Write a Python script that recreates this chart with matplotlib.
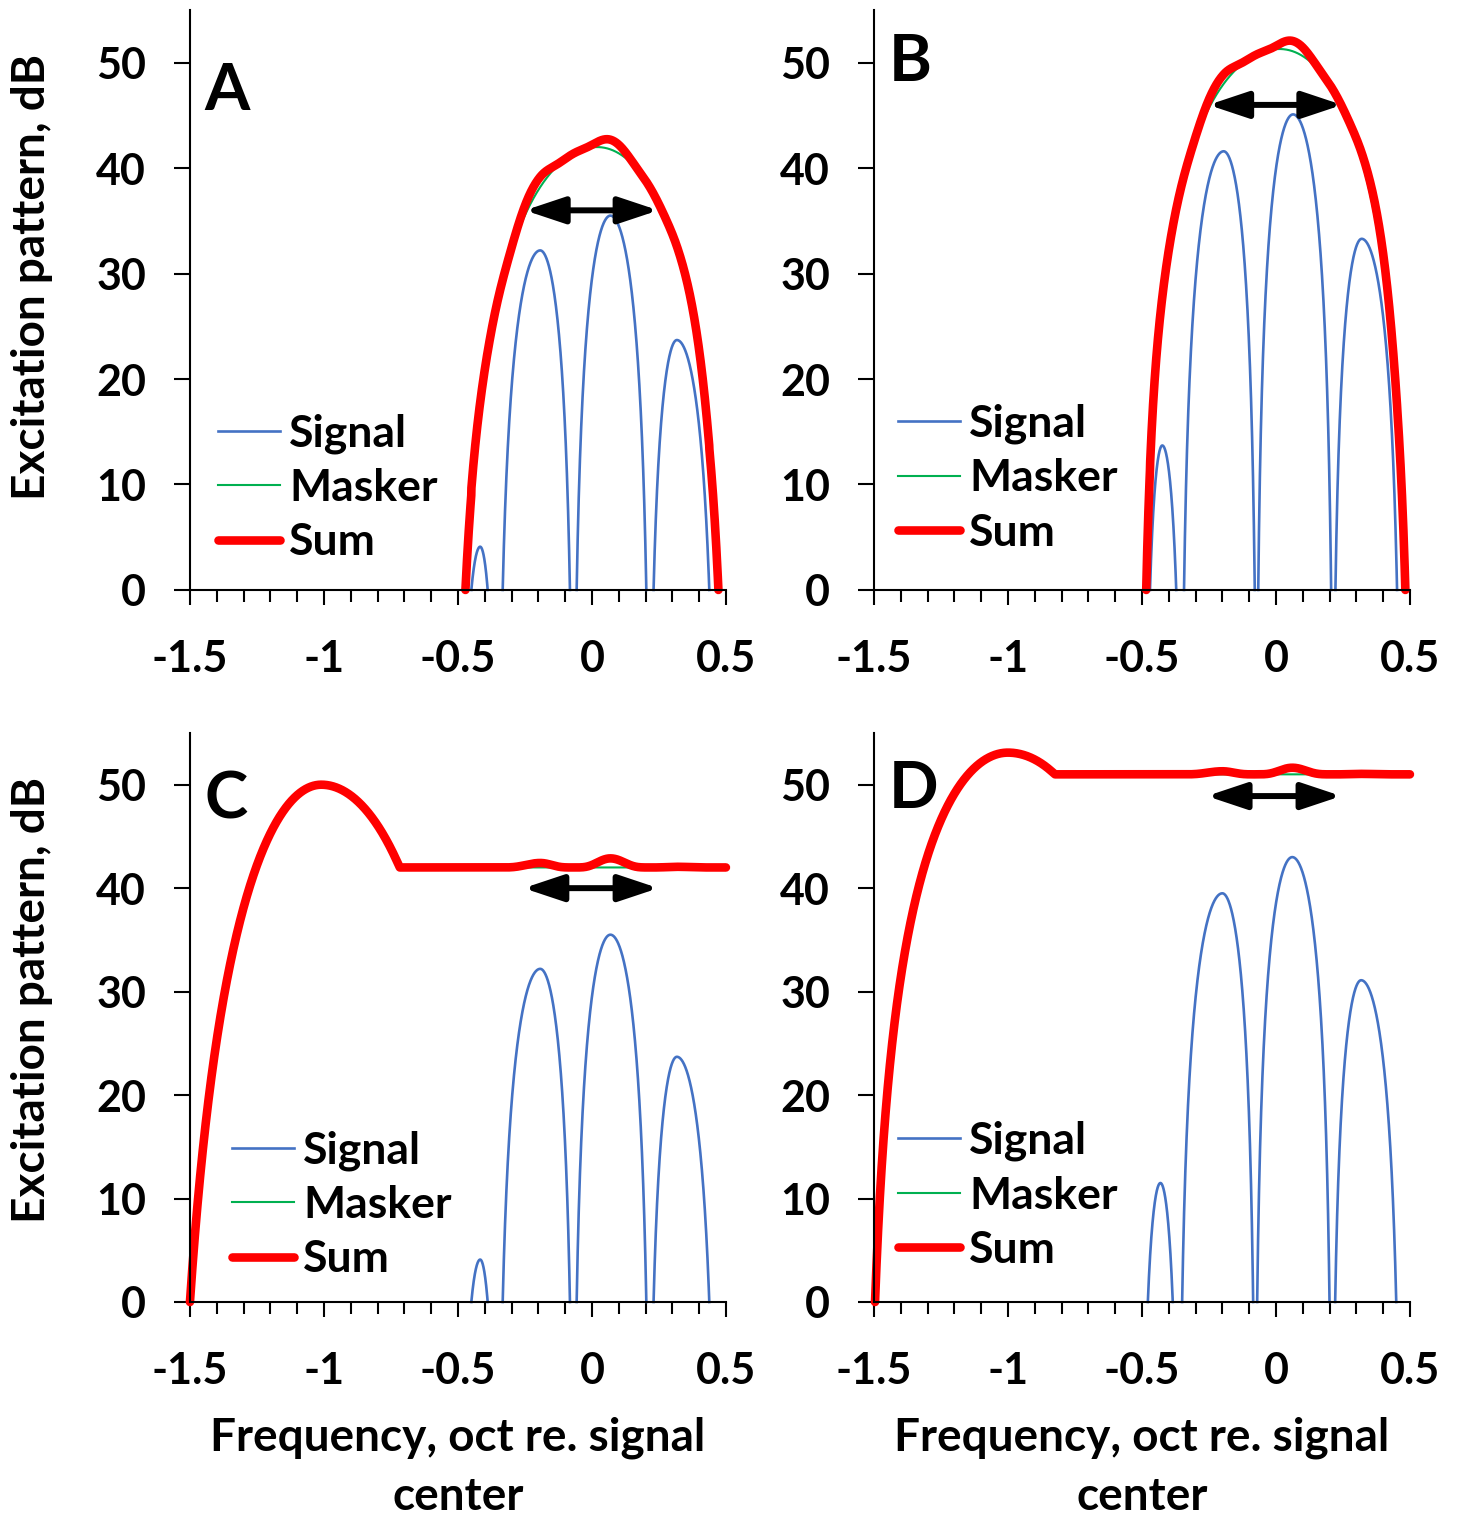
import numpy as np
import matplotlib.pyplot as plt

plt.rcParams['font.family'] = 'Lato'
plt.rcParams['font.weight'] = 'bold'
plt.rcParams['axes.unicode_minus'] = False

BLUE = '#4472C4'
GREEN = '#00B050'
RED = '#FF0000'

# Signal lobes: lower zero, peak frequency, peak level, upper zero
sig_ac_lo = [-0.450, -0.333, -0.057, 0.230]
sig_ac_fx = [-0.417, -0.193, 0.069, 0.317]
sig_ac_db = [4.1, 32.2, 35.5, 23.7]
sig_ac_hi = [-0.389, -0.082, 0.203, 0.438]

sig_b_lo = [-0.470, -0.343, -0.066, 0.222]
sig_b_fx = [-0.424, -0.195, 0.064, 0.320]
sig_b_db = [13.7, 41.6, 45.1, 33.3]
sig_b_hi = [-0.372, -0.079, 0.206, 0.452]

sig_d_lo = [-0.478, -0.350, -0.070, 0.221]
sig_d_fx = [-0.431, -0.200, 0.061, 0.318]
sig_d_db = [11.5, 39.5, 43.0, 31.1]
sig_d_hi = [-0.385, -0.085, 0.200, 0.449]

# Masker: lower zero, peak frequency, peak level, upper zero, plateau level
mask_lo = [-0.472, -0.484, -1.500, -1.496]
mask_fx = [0.020, 0.014, -1.010, -1.000]
mask_db = [42.0, 51.3, 50.0, 53.1]
mask_hi = [0.472, 0.483, -0.420, -0.414]
mask_floor = [None, None, 42.0, 51.0]
mask_c_lo = [50, 42, 100, 60]
mask_c_hi = [50, 50, 100, 60]

# Bandwidth arrows (from, to, level)
arrow_x0 = [-0.250, -0.252, -0.255, -0.258]
arrow_x1 = [0.248, 0.247, 0.248, 0.244]
arrow_db = [36.0, 46.0, 40.0, 48.9]

letters = ['A', 'B', 'C', 'D']
letter_db = [47.3, 50.0, 48.5, 49.5]
legend_pos = [(-1.396, 9.7), (-1.41, 10.6), (-1.343, 9.4), (-1.41, 10.3)]

SIG_C = 50


def lobe(x, lo, fx, peak, hi, c_lo, c_hi):
    x = np.asarray(x, dtype=float)
    u = np.where(x < fx, (fx - x) / (fx - lo), (x - fx) / (hi - fx))
    c = np.where(x < fx, c_lo, c_hi)
    f = 1 - 10 ** (-peak / c)
    y = np.full(x.shape, np.nan)
    ok = u <= 1
    y[ok] = peak + c[ok] * np.log10(np.clip(1 - f[ok] * u[ok] ** 2, 1e-12, None))
    return np.clip(y, 0, None)


def signal_curve(lo, fx, db, hi):
    xs, ys = [], []
    for a, p, h, b in zip(lo, fx, db, hi):
        xx = np.linspace(a, b, 400)
        xs += [xx, [np.nan]]
        ys += [lobe(xx, a, p, h, b, SIG_C, SIG_C), [np.nan]]
    return np.concatenate(xs), np.concatenate(ys)


def signal_on(x, lo, fx, db, hi):
    s = np.full(x.shape, -np.inf)
    for a, p, h, b in zip(lo, fx, db, hi):
        inside = (x >= a) & (x <= b)
        s[inside] = np.maximum(s[inside], lobe(x[inside], a, p, h, b, SIG_C, SIG_C))
    return s


signals = [
    (sig_ac_lo, sig_ac_fx, sig_ac_db, sig_ac_hi),
    (sig_b_lo, sig_b_fx, sig_b_db, sig_b_hi),
    (sig_ac_lo, sig_ac_fx, sig_ac_db, sig_ac_hi),
    (sig_d_lo, sig_d_fx, sig_d_db, sig_d_hi),
]

rects = [
    [0.1301, 0.6106, 0.3671, 0.3828],
    [0.5986, 0.6106, 0.3671, 0.3828],
    [0.1301, 0.1406, 0.3671, 0.3756],
    [0.5986, 0.1406, 0.3671, 0.3756],
]

fig = plt.figure(figsize=(14.6, 15.15), dpi=100)

for i in range(4):
    ax = fig.add_axes(rects[i])

    sx, sy = signal_curve(*signals[i])

    if mask_floor[i] is None:
        mx = np.linspace(mask_lo[i], mask_hi[i], 3000)
        my = lobe(mx, mask_lo[i], mask_fx[i], mask_db[i], mask_hi[i],
                  mask_c_lo[i], mask_c_hi[i])
    else:
        mx = np.linspace(mask_lo[i], 0.5, 4000)
        my = lobe(mx, mask_lo[i], mask_fx[i], mask_db[i], mask_hi[i],
                  mask_c_lo[i], mask_c_hi[i])
        right = mx >= mask_fx[i]
        my[right] = np.fmax(my[right], mask_floor[i])

    # power sum of signal and masker
    s_on = signal_on(mx, *signals[i])
    total = 10 * np.log10(10 ** (my / 10) + 10 ** (s_on / 10))

    ax.plot(sx, sy, color=BLUE, lw=1.9, label='Signal', clip_on=False)
    ax.plot(mx, my, color=GREEN, lw=1.5, label='Masker', clip_on=False)
    ax.plot(mx, total, color=RED, lw=6.2, label='Sum', clip_on=False,
            solid_capstyle='round', solid_joinstyle='round')

    ax.annotate('', xy=(arrow_x1[i], arrow_db[i]), xytext=(arrow_x0[i], arrow_db[i]),
                arrowprops=dict(arrowstyle='<|-|>,head_length=1.2,head_width=0.4',
                                color='black', lw=4.3, mutation_scale=20,
                                shrinkA=0, shrinkB=0))

    ax.text(-1.445, letter_db[i], letters[i], fontsize=47, fontweight='bold',
            ha='left', va='center')

    lx, ly = legend_pos[i]
    ax.legend(loc='center left', bbox_to_anchor=(lx, ly), bbox_transform=ax.transData,
              frameon=False, fontsize=32, handlelength=1.4, handletextpad=0.2,
              labelspacing=0.32, borderpad=0, borderaxespad=0)

    ax.set_xlim(-1.5, 0.5)
    ax.set_ylim(0, 55)
    ax.set_xticks([-1.5, -1, -0.5, 0, 0.5])
    ax.set_xticklabels(['-1.5', '-1', '-0.5', '0', '0.5'])
    ax.set_xticks(np.arange(-1.5, 0.51, 0.1), minor=True)
    ax.set_yticks(range(0, 51, 10))
    ax.tick_params(axis='x', which='major', direction='out', length=11, width=1.5,
                   pad=24, labelsize=31)
    ax.tick_params(axis='x', which='minor', direction='out', length=8.5, width=1.5)
    ax.tick_params(axis='y', direction='out', length=11.5, width=1.5, pad=20,
                   labelsize=31)
    for side in ['top', 'right']:
        ax.spines[side].set_visible(False)
    for side in ['left', 'bottom']:
        ax.spines[side].set_linewidth(1.5)

# axis titles
for y in [0.8172, 0.340]:
    fig.text(0.0219, y, 'Excitation pattern, dB', rotation=90, fontsize=33,
             fontweight='bold', ha='center', va='center')
for x in [0.3137, 0.7822]:
    fig.text(x, 0.0508, 'Frequency, oct re. signal', fontsize=33,
             fontweight='bold', ha='center', va='center')
    fig.text(x, 0.0119, 'center', fontsize=33, fontweight='bold',
             ha='center', va='center')

plt.savefig('out.png', dpi=100)
